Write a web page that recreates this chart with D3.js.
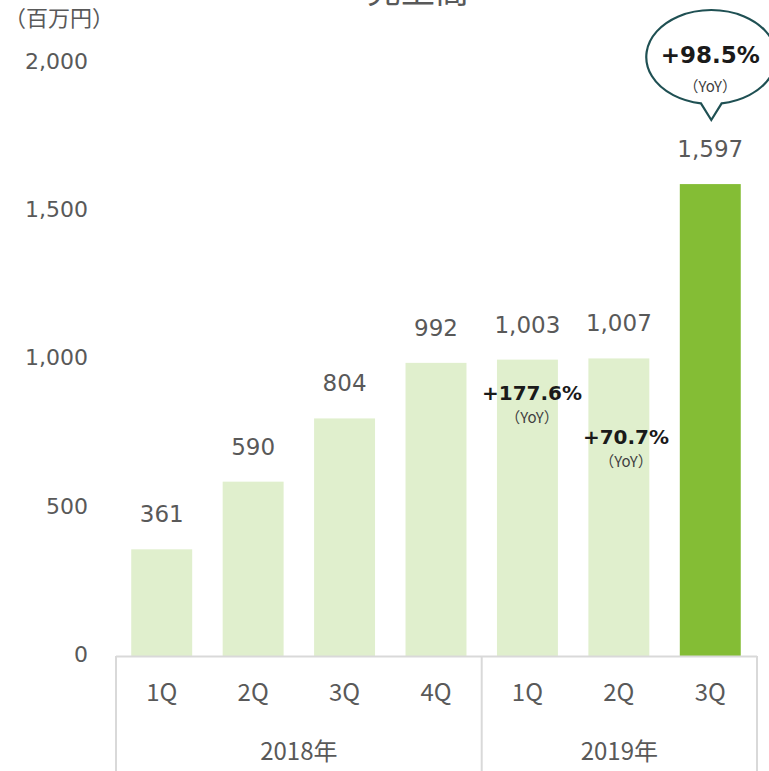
<!DOCTYPE html>
<html><head><meta charset="utf-8">
<script src="https://cdn.jsdelivr.net/npm/d3@7/dist/d3.min.js"></script>
<style>body{margin:0;background:#fff}svg{display:block}</style>
</head><body><svg id="c" width="769" height="771"></svg>
<script>
const quarters = ["1Q","2Q","3Q","4Q","1Q","2Q","3Q"];
const years = ["2018年","2019年"];
const values = [361,590,804,992,1003,1007,1597];
const valueLabels = ["361","590","804","992","1,003","1,007","1,597"];
const highlight = [false,false,false,false,false,false,true];
const yoyLabels = [null,null,null,null,"+177.6%","+70.7%","+98.5%"];
const yTicks = [0,500,1000,1500,2000];
const title = "売上高";
const unit = "（百万円）";

const svg = d3.select("#c");
const FONT = "'DejaVu Sans','Noto Sans CJK JP',sans-serif";
const CJK = "'Noto Sans CJK JP',sans-serif";
const x = d3.scaleBand().domain(d3.range(values.length)).range([116,756]).paddingInner(1/3).paddingOuter(1/6);
const y = d3.scaleLinear().domain([0,2000]).range([656,65]);

// title (partially cut)
svg.append("text").attr("x",418).attr("y",3).attr("text-anchor","middle")
  .attr("font-family",CJK).attr("font-size",34).attr("fill","#595959").text(title);
svg.append("text").attr("x",4).attr("y",26).attr("font-family",CJK)
  .attr("font-size",22).attr("fill","#595959").text(unit);

// y axis labels
svg.append("g").selectAll("text").data(yTicks).join("text")
  .attr("x",88).attr("y",d=>y(d)-2-d*0.001).attr("dy","0.36em").attr("text-anchor","end")
  .attr("font-family",FONT).attr("font-size",22).attr("fill","#595959")
  .text(d=>d3.format(",")(d));

// bars
svg.append("g").selectAll("rect").data(values).join("rect")
  .attr("x",(d,i)=>x(i)).attr("width",x.bandwidth())
  .attr("y",d=>y(d)).attr("height",d=>y(0)-y(d))
  .attr("fill",(d,i)=>highlight[i]?"#84bd35":"#e0efcd");

// value labels
svg.append("g").selectAll("text").data(values).join("text")
  .attr("x",(d,i)=>x(i)+x.bandwidth()/2).attr("y",d=>y(d)-27)
  .attr("text-anchor","middle").attr("font-family",FONT).attr("font-size",23).attr("fill","#595959")
  .text((d,i)=>valueLabels[i]);

// axis lines
const axisC = "#d9d9d9";
svg.append("line").attr("x1",116).attr("x2",757).attr("y1",y(0)+0.5).attr("y2",y(0)+0.5).attr("stroke",axisC).attr("stroke-width",2);
const seps = [116, (x(3)+x.bandwidth()+x(4))/2, 757];
svg.append("g").selectAll("line").data(seps).join("line")
  .attr("x1",d=>d).attr("x2",d=>d).attr("y1",y(0)).attr("y2",771).attr("stroke",axisC).attr("stroke-width",2);

// quarter labels
svg.append("g").selectAll("text").data(quarters).join("text")
  .attr("x",(d,i)=>x(i)+x.bandwidth()/2).attr("y",701).attr("text-anchor","middle")
  .attr("font-family",CJK).attr("font-size",24).attr("fill","#595959").text(d=>d);
// year labels
svg.append("g").selectAll("text").data(years).join("text")
  .attr("x",(d,i)=>(seps[i]+seps[i+1])/2).attr("y",760).attr("text-anchor","middle")
  .attr("font-family",CJK).attr("font-size",24).attr("fill","#595959").text(d=>d);

// YoY labels on bars 4 and 5
const yoyPos = {4:[532,400], 5:[626,444]};
Object.keys(yoyPos).forEach(k=>{
  const [px,py] = yoyPos[k];
  svg.append("text").attr("x",px).attr("y",py).attr("text-anchor","middle")
    .attr("font-family",FONT).attr("font-weight","bold").attr("font-size",20).attr("fill","#1a1a1a").text(yoyLabels[k]);
  svg.append("text").attr("x",px).attr("y",py+23).attr("text-anchor","middle")
    .attr("font-family",CJK).attr("font-size",15).attr("fill","#404040").text("（YoY）");
});

// callout bubble for last bar
const cx = x(6)+x.bandwidth()/2 + 1, cy = 57, rx = 65, ry = 47;
const tipY = 120;
const a1 = Math.PI/2 + 0.16, a2 = Math.PI/2 - 0.16;
const p1 = [cx + rx*Math.cos(a1), cy + ry*Math.sin(a1)];
const p2 = [cx + rx*Math.cos(a2), cy + ry*Math.sin(a2)];
const path = `M${p2[0]},${p2[1]} A${rx},${ry} 0 1 0 ${p1[0]},${p1[1]} L${cx},${tipY} Z`;
svg.append("path").attr("d",path).attr("fill","#fff").attr("stroke","#1f5053").attr("stroke-width",2.2);
svg.append("text").attr("x",cx-1).attr("y",63).attr("text-anchor","middle")
  .attr("font-family",FONT).attr("font-weight","bold").attr("font-size",23).attr("fill","#1a1a1a").text(yoyLabels[6]);
svg.append("text").attr("x",cx-1).attr("y",92).attr("text-anchor","middle")
  .attr("font-family",CJK).attr("font-size",15).attr("fill","#404040").text("（YoY）");
</script></body></html>
